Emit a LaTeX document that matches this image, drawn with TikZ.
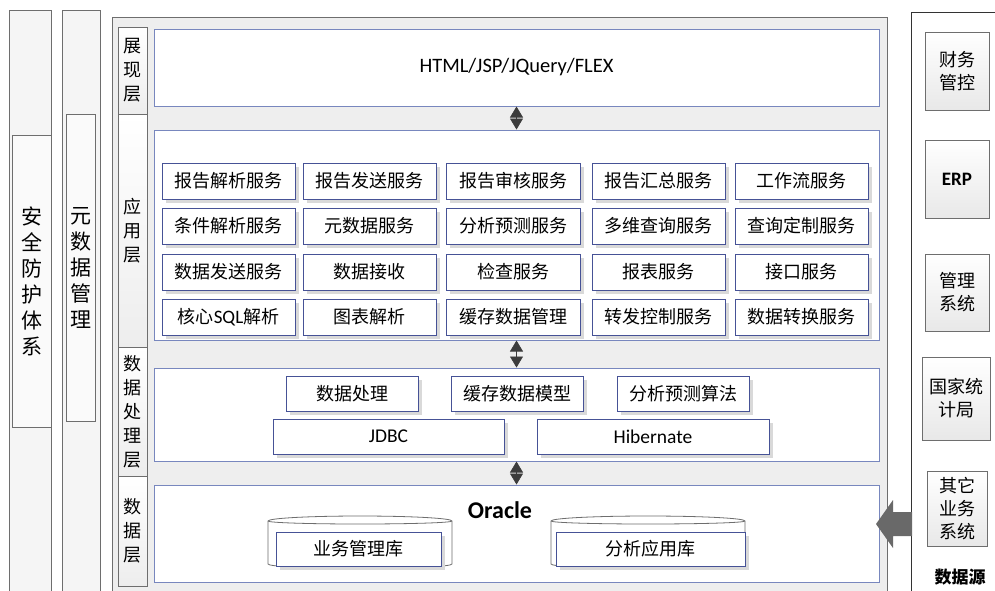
\documentclass[tikz,border=0pt]{standalone}
\usepackage{fontspec}
\setmainfont{Noto Sans CJK SC}
\newfontfamily\lat{Carlito}
\usetikzlibrary{shadows,arrows.meta}
\definecolor{bord}{RGB}{70,82,150}
\definecolor{pbord}{RGB}{120,135,190}
\definecolor{gbord}{RGB}{110,110,110}
\definecolor{bgg}{RGB}{238,238,238}
\definecolor{darr}{RGB}{60,60,60}
\definecolor{bigarr}{RGB}{105,105,105}
\tikzset{
  colbox/.style={draw=gbord,fill=gray!8,line width=0.8pt,inner sep=0pt},
  colin/.style={draw=gbord,fill=gray!4,line width=0.8pt,inner sep=0pt,font=\fontsize{21}{26}\selectfont,align=center},
  laylab/.style={draw=gbord,top color=white,bottom color=gray!14,line width=0.8pt,inner sep=0pt,minimum width=29,font=\fontsize{18}{24}\selectfont,align=center},
  panel/.style={draw=pbord,fill=white,line width=1pt,inner sep=0pt,minimum width=725},
  svc/.style={draw=bord,fill=white,line width=0.9pt,inner sep=0pt,minimum height=36,
    drop shadow={opacity=1,fill=gray!30,shadow xshift=4pt,shadow yshift=-4pt},font=\fontsize{18}{20}\selectfont},
  srcbox/.style={draw=gbord,top color=white,bottom color=gray!18,line width=0.8pt,inner sep=0pt,font=\fontsize{18}{23}\selectfont,align=center},
  dbl/.style={draw=darr,line width=0.6pt,{Triangle[length=11pt,width=13pt]}-{Triangle[length=11pt,width=13pt]}},
  dbshape/.style={draw=gbord,fill=white,line width=0.8pt}
}
\begin{document}
\begin{tikzpicture}[x=1pt,y=-1pt]
\useasboundingbox (0,0) rectangle (995,590);
% left columns
\node[colbox,minimum width=42,minimum height=585] (safecol) at (30,302.5) {};
\node[colin,minimum width=39,minimum height=292] (safe) at (31.5,281) {安\\全\\防\\护\\体\\系};
\node[colbox,minimum width=38,minimum height=585] (metacol) at (81,302.5) {};
\node[colin,minimum width=29,minimum height=307] (meta) at (80.5,267.5) {元\\数\\据\\管\\理};
% main frame
\node[draw=gbord,fill=bgg,line width=0.8pt,minimum width=775,minimum height=580,inner sep=0pt] (frame) at (499.5,307) {};
% layer labels
\node[laylab,minimum height=87] (l1) at (132.5,70.5) {展\\现\\层};
\node[laylab,minimum height=233] (l2) at (132.5,230.5) {应\\用\\层};
\node[laylab,minimum height=129] (l3) at (132.5,411.5) {数\\据\\处\\理\\层};
\node[laylab,minimum height=110] (l4) at (132.5,531) {数\\据\\层};
% panels
\node[panel,minimum height=77] (pres) at (516.5,67.5) {\lat\fontsize{20.5}{22}\selectfont HTML/JSP/JQuery/FLEX};
\node[panel,minimum height=210] (app) at (516.5,235) {};
\node[panel,minimum height=93] (proc) at (516.5,414.5) {};
\node[panel,minimum height=97] (data) at (516.5,533.5) {};
% connectors
\draw[dbl] (pres.south) -- (app.north);
\draw[dbl] (app.south) -- (proc.north);
\draw[dbl] (proc.south) -- (data.north);
% application services
\foreach \r/\y/\a/\b/\c/\d/\e in {
  1/181/报告解析服务/报告发送服务/报告审核服务/报告汇总服务/工作流服务,
  2/226/条件解析服务/元数据服务/分析预测服务/多维查询服务/查询定制服务,
  3/272/数据发送服务/数据接收/检查服务/报表服务/接口服务,
  4/317/核心{\lat\fontsize{19}{20}\selectfont SQL}解析/图表解析/缓存数据管理/转发控制服务/数据转换服务}{
  \node[svc,minimum width=133] (s\r a) at (228.5,\y) {\a};
  \node[svc,minimum width=133] (s\r b) at (369.5,\y) {\b};
  \node[svc,minimum width=134] (s\r c) at (513,\y) {\c};
  \node[svc,minimum width=133] (s\r d) at (658.5,\y) {\d};
  \node[svc,minimum width=133] (s\r e) at (801.5,\y) {\e};
}
% processing
\node[svc,minimum width=132,minimum height=35] (p1) at (352,393.5) {数据处理};
\node[svc,minimum width=132,minimum height=35] (p2) at (517,393.5) {缓存数据模型};
\node[svc,minimum width=132,minimum height=35] (p3) at (683,393.5) {分析预测算法};
\node[svc,minimum width=231,minimum height=35,font=\lat\fontsize{19.5}{20}\selectfont] (jdbc) at (388.5,436.5) {JDBC};
\node[svc,minimum width=232,minimum height=35,font=\lat\fontsize{19.5}{20}\selectfont] (hib) at (653,436.5) {Hibernate};
% data layer
\node[font=\lat\bfseries\fontsize{24}{26}\selectfont] (oracle) at (500,510) {Oracle};
% cylinder 1
\path[dbshape] (268,521) -- (268,564) arc[start angle=180,end angle=360,x radius=92,y radius=-4.5] -- (452,521) arc[start angle=0,end angle=180,x radius=92,y radius=-5] -- cycle;
\draw[gbord,line width=0.8pt] (268,521) arc[start angle=180,end angle=360,x radius=92,y radius=-3];
\node[svc,minimum width=165,minimum height=34] (db1t) at (358.5,549) {业务管理库};
% cylinder 2
\path[dbshape] (551,521) -- (551,564) arc[start angle=180,end angle=360,x radius=97,y radius=-4.5] -- (745,521) arc[start angle=0,end angle=180,x radius=97,y radius=-5] -- cycle;
\draw[gbord,line width=0.8pt] (551,521) arc[start angle=180,end angle=360,x radius=97,y radius=-3];
\node[svc,minimum width=189,minimum height=34] (db2t) at (650.5,549) {分析应用库};
% right column
\node[draw=black!80,fill=white,line width=0.8pt,minimum width=100,minimum height=600,inner sep=0pt,anchor=north west] (srccol) at (911,12) {};
\node[srcbox,minimum width=64,minimum height=78] (src1) at (957,71) {财务\\管控};
\node[srcbox,minimum width=64,minimum height=78,font=\lat\bfseries\fontsize{19}{20}\selectfont] (src2) at (957,179) {ERP};
\node[srcbox,minimum width=64,minimum height=77] (src3) at (957,292.5) {管理\\系统};
\node[srcbox,minimum width=68,minimum height=83] (src4) at (956,398.5) {国家统\\计局};
\node[srcbox,minimum width=60,minimum height=75] (src5) at (957,508.5) {其它\\业务\\系统};
\node[font=\bfseries\fontsize{17}{20}\selectfont] (dsrc) at (960,577) {数据源};
% big arrow
\fill[bigarr] (912,512) -- (893,512) -- (893,500) -- (876,524) -- (893,548) -- (893,536) -- (912,536) -- cycle;
\end{tikzpicture}
\end{document}
